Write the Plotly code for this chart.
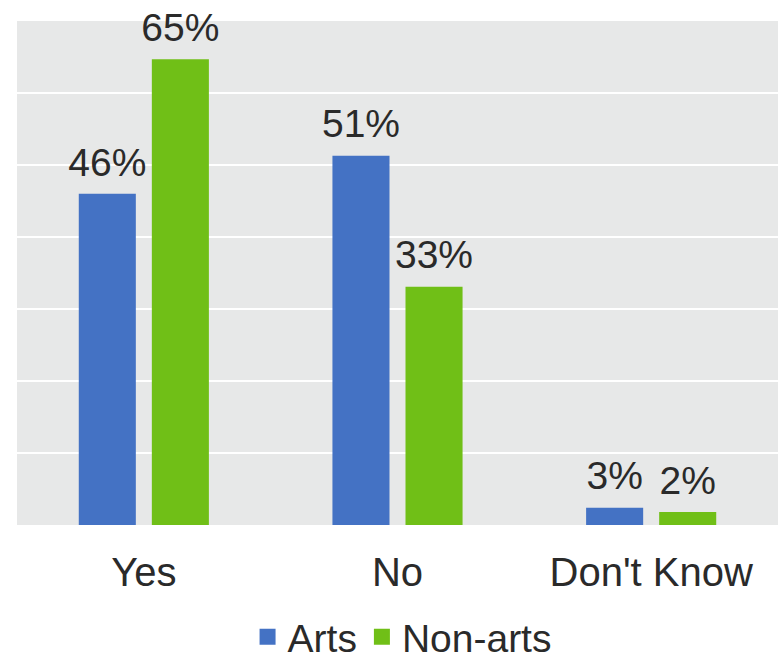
import plotly.graph_objects as go

categories = ["Yes", "No", "Don't Know"]
arts_values = [46.0, 51.3, 2.4]
nonarts_values = [64.7, 33.1, 1.8]
arts_labels = ["46%", "51%", "3%"]
nonarts_labels = ["65%", "33%", "2%"]
series_names = ["Arts", "Non-arts"]

BLUE = "#4472C4"
GREEN = "#70BF17"
FONT = "Liberation Sans, Arial, sans-serif"
TXT = "#2a2a2a"
GAP = 0.424

fig = go.Figure()
for name, vals, labels, color in [
    (series_names[0], arts_values, arts_labels, BLUE),
    (series_names[1], nonarts_values, nonarts_labels, GREEN),
]:
    fig.add_trace(go.Bar(
        x=categories, y=vals, name=name, marker=dict(color=color, line=dict(width=0)),
        offsetgroup=name, showlegend=False, hoverinfo="skip",
    ))
    fig.add_trace(go.Scatter(
        x=categories, y=vals, mode="markers+text", text=labels,
        textposition="top center", offsetgroup=name,
        marker=dict(size=12, opacity=0, color=color),
        textfont=dict(size=39, color=TXT, family=FONT),
        showlegend=False, hoverinfo="skip", cliponaxis=False,
    ))
    # legend entry
    fig.add_trace(go.Scatter(
        x=[None], y=[None], mode="markers", name=name, offsetgroup=name,
        marker=dict(symbol="square", size=21, color=color),
    ))

fig.update_layout(
    width=778, height=657,
    margin=dict(l=17, r=0, t=21, b=132, autoexpand=False),
    paper_bgcolor="white",
    plot_bgcolor="#E7E8E8",
    barmode="group",
    bargap=GAP,
    bargroupgap=0.219,
    scattermode="group",
    scattergap=GAP,
    font=dict(family=FONT, color=TXT, size=39),
    legend=dict(
        orientation="h", x=0.506, xanchor="center", y=-0.222, yanchor="middle",
        font=dict(size=39, color=TXT, family=FONT), itemsizing="trace",
        itemwidth=30, tracegroupgap=0, bgcolor="rgba(0,0,0,0)",
    ),
    xaxis=dict(
        showgrid=False, showline=False, zeroline=False, ticks="",
        tickfont=dict(size=40, color=TXT, family=FONT), ticklabelstandoff=20,
    ),
    yaxis=dict(
        range=[0, 70], dtick=10, showgrid=True, gridcolor="white", gridwidth=2,
        showticklabels=False, zeroline=False, showline=False, ticks="",
    ),
)

fig.write_html("out.html")
